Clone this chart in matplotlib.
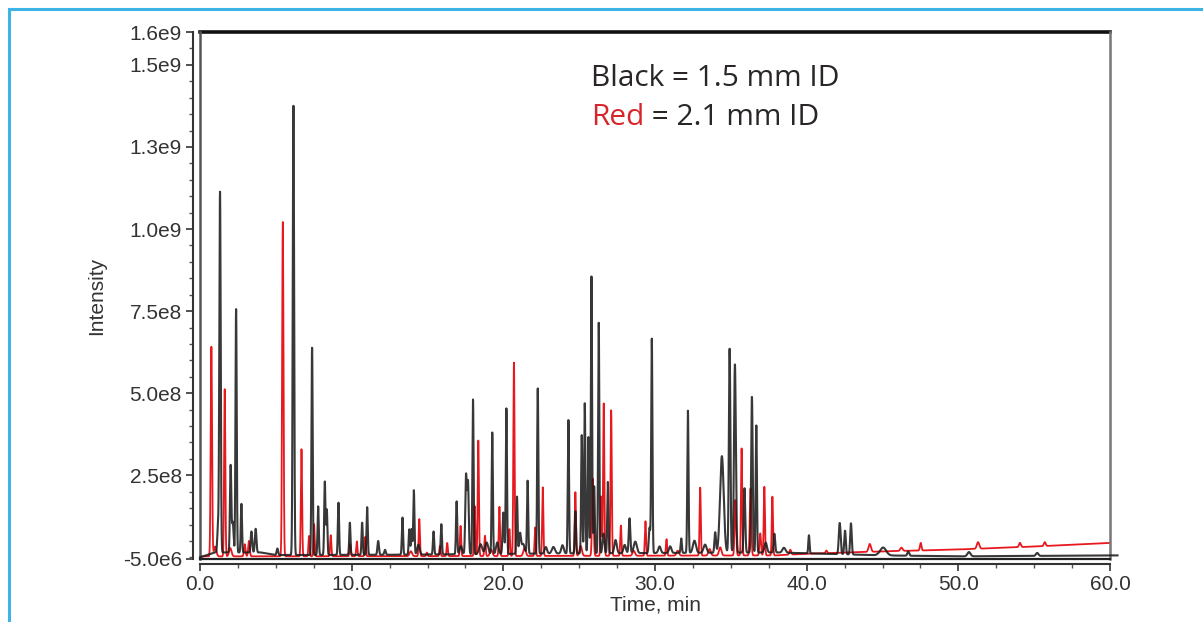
import numpy as np
import matplotlib.pyplot as plt
from matplotlib.lines import Line2D
from matplotlib.ticker import FixedLocator, MultipleLocator

plt.rcParams['font.family'] = ['Liberation Sans', 'DejaVu Sans']

# peaks: retention time (min), height, width (min)
black_t = [1.19, 1.32, 2.02, 2.16, 2.38, 2.73, 3.39, 3.67, 5.1, 6.16, 7.39, 7.79, 8.23, 8.36,
           9.13, 9.88, 10.69, 11.02, 11.75, 12.2, 13.35, 13.8, 13.95, 14.1, 15.4, 15.91, 16.92,
           17.54, 17.67, 18.0, 18.9, 19.27, 20.0, 20.2, 20.9, 21.1, 21.6, 22.27, 23.3, 24.29,
           24.75, 25.17, 25.37, 25.61, 25.81, 25.99, 26.29, 26.89, 28.32, 29.64, 29.79, 31.73,
           32.17, 32.6, 33.97, 34.41, 34.92, 35.27, 35.9, 36.39, 36.68, 37.87, 40.15, 42.18,
           42.53, 42.92, 45.04, 46.7, 50.7, 55.2,
           14.4, 17.2, 18.5, 19.6, 21.3, 22.8, 23.9, 26.6, 27.4, 28.0, 28.7, 30.3, 31.0, 33.3,
           37.3, 38.5]
black_h = [7.7e7, 1.096e9, 2.65e8, 9.2e7, 7.41e8, 1.48e8, 6.4e7, 7.2e7, 2.0e7, 1.368e9, 6.31e8,
           1.48e8, 2.23e8, 1.38e8, 1.59e8, 9.8e7, 9.8e7, 1.45e8, 4.2e7, 1.5e7, 1.13e8, 7.7e7,
           7.8e7, 1.96e8, 7.0e7, 9.2e7, 1.61e8, 2.38e8, 2.17e8, 4.71e8, 3.5e7, 3.7e8, 1.26e8,
           4.43e8, 1.74e8, 6.0e7, 2.22e8, 5.03e8, 2.0e7, 4.06e8, 1.28e8, 3.6e8, 4.57e8, 3.54e8,
           8.43e8, 2.04e8, 7.02e8, 2.17e8, 1.06e8, 7.7e7, 6.52e8, 4.4e7, 4.33e8, 3.7e7, 6.2e7,
           2.94e8, 6.21e8, 5.73e8, 1.96e8, 4.74e8, 3.87e8, 5.7e7, 5.5e7, 9.5e7, 7.2e7, 9.5e7,
           2.4e7, 1.3e7, 1.3e7, 9e6,
           3.0e7, 2.5e7, 3.0e7, 3.5e7, 3.0e7, 2.0e7, 2.5e7, 6.0e7, 4.0e7, 2.5e7, 3.5e7, 2.0e7,
           2.0e7, 2.5e7, 3.0e7, 1.5e7]
black_w = [0.05, 0.045, 0.045, 0.05, 0.04, 0.04, 0.05, 0.05, 0.05, 0.045, 0.04, 0.04, 0.04,
           0.04, 0.04, 0.04, 0.04, 0.04, 0.05, 0.05, 0.04, 0.04, 0.04, 0.04, 0.04, 0.04, 0.04,
           0.05, 0.05, 0.04, 0.1, 0.04, 0.05, 0.04, 0.04, 0.06, 0.04, 0.04, 0.1, 0.04, 0.04,
           0.04, 0.04, 0.04, 0.04, 0.04, 0.04, 0.04, 0.05, 0.05, 0.04, 0.04, 0.04, 0.1, 0.05,
           0.12, 0.05, 0.06, 0.05, 0.05, 0.04, 0.05, 0.04, 0.06, 0.05, 0.05, 0.2, 0.06, 0.1, 0.08,
           0.08, 0.08, 0.1, 0.08, 0.1, 0.08, 0.08, 0.06, 0.08, 0.08, 0.1, 0.08, 0.08, 0.1,
           0.08, 0.1]

red_t = [0.75, 1.63, 2.95, 3.23, 5.46, 6.69, 7.19, 7.52, 8.62, 9.9, 10.34, 10.9, 14.46, 14.96,
         15.82, 16.3, 17.18, 18.11, 18.35, 18.79, 19.74, 20.4, 20.7, 22.1, 22.6, 24.75, 25.9,
         26.45, 26.62, 27.11, 27.75, 29.37, 30.76, 32.98, 35.3, 35.71, 36.3, 36.94, 37.21,
         37.74, 38.92, 41.3, 44.16, 46.25, 47.52, 51.3, 54.06, 55.7,
         1.0, 2.0, 13.9, 19.2, 21.4, 25.1, 28.6, 31.5, 33.6, 34.3]
red_h = [6.38e8, 5.09e8, 3.7e7, 4.7e7, 1.018e9, 3.26e8, 6.2e7, 9.8e7, 6.4e7, 3.7e7, 4.5e7, 5.9e7,
         1.13e8, 1.1e7, 3.1e7, 4.0e7, 9.2e7, 1.52e8, 3.52e8, 6.2e7, 1.5e8, 8.2e7, 5.89e8, 8.7e7,
         2.09e8, 1.94e8, 2.35e8, 1.81e8, 4.64e8, 4.43e8, 9.2e7, 1.05e8, 5.0e7, 2.07e8, 1.69e8,
         3.26e8, 2.04e8, 6.7e7, 2.09e8, 1.79e8, 1.5e7, 8e6, 2.4e7, 1.0e7, 2.3e7, 2.0e7, 1.3e7, 1.2e7,
         3.0e7, 2.5e7, 1.5e7, 2.0e7, 2.5e7, 3.0e7, 1.5e7, 1.5e7, 2.0e7, 2.5e7]
red_w = [0.045, 0.04, 0.05, 0.05, 0.045, 0.04, 0.04, 0.04, 0.04, 0.04, 0.04, 0.04, 0.04, 0.04,
         0.04, 0.04, 0.04, 0.04, 0.04, 0.04, 0.04, 0.04, 0.04, 0.04, 0.04, 0.04, 0.05, 0.04,
         0.04, 0.04, 0.04, 0.04, 0.04, 0.04, 0.05, 0.04, 0.05, 0.05, 0.04, 0.04, 0.06, 0.05,
         0.08, 0.08, 0.05, 0.08, 0.06, 0.06,
         0.08, 0.08, 0.08, 0.08, 0.08, 0.08, 0.08, 0.08, 0.08, 0.08]

# baseline drift
black_base_t = [0, 1.0, 4.0, 5.0, 13.0, 24.0, 38.0, 45.0, 50.0, 60.5]
black_base_v = [0, 1.5e7, 1.5e7, 7e6, 8e6, 1.2e7, 1.5e7, 6e6, 3e6, 6e6]
red_base_t = [0, 20.0, 38.0, 40.0, 45.0, 50.0, 55.0, 60.0]
red_base_v = [3e6, 4e6, 6e6, 1.1e7, 1.8e7, 2.4e7, 3.3e7, 4.4e7]


def trace(t, pk_t, pk_h, pk_w, base_t, base_v):
    y = np.interp(t, base_t, base_v)
    for c, h, w in zip(pk_t, pk_h, pk_w):
        y = y + h * np.exp(-0.5 * ((t - c) / w) ** 2)
    return y


t = np.arange(0, 60.5, 0.005)
y_black = trace(t, black_t, black_h, black_w, black_base_t, black_base_v)
t_red = t[t <= 60]
y_red = trace(t_red, red_t, red_h, red_w, red_base_t, red_base_v)

fig = plt.figure(figsize=(12.03, 6.22), dpi=100)
ax = fig.add_axes([200 / 1203, 1 - 559 / 622, 910 / 1203, 527 / 622])

ax.plot(t_red, y_red, color='#e8191e', lw=1.3, zorder=2)
ax.plot(t, y_black, color='#1c1c1c', lw=1.5, alpha=0.88, zorder=3, clip_on=False)

ax.set_xlim(0, 60)
ax.set_ylim(-5e6, 1.6e9)

yt = [-5e6, 2.5e8, 5e8, 7.5e8, 1e9, 1.25e9, 1.5e9, 1.6e9]
ytl = ['-5.0e6', '2.5e8', '5.0e8', '7.5e8', '1.0e9', '1.3e9', '1.5e9', '1.6e9']
ax.yaxis.set_major_locator(FixedLocator(yt))
ax.set_yticklabels(ytl)
ax.yaxis.set_minor_locator(MultipleLocator(5e7))
ax.xaxis.set_major_locator(MultipleLocator(10))
ax.xaxis.set_minor_locator(MultipleLocator(2.5))
ax.xaxis.set_major_formatter(lambda v, p: f'{v:.1f}')

for s in ['top', 'right']:
    ax.spines[s].set_visible(False)
ax.spines['left'].set_position(('outward', 5))
ax.spines['bottom'].set_position(('outward', 3.5))
ax.spines['left'].set_bounds(-5e6, 1.6e9)
for s in ['left', 'bottom']:
    ax.spines[s].set_color('#333333')
    ax.spines[s].set_linewidth(1.5)

ax.tick_params(axis='both', which='major', length=5, width=1.2, color='#333333',
               labelsize=15, labelcolor='#333333', pad=3)
ax.tick_params(axis='both', which='minor', length=3, width=1, color='#555555')

# plot frame
ax.add_line(Line2D([0, 1], [1, 1], transform=ax.transAxes, color='#111111', lw=2.6, clip_on=False))
ax.add_line(Line2D([0, 0], [0, 1], transform=ax.transAxes, color='#555555', lw=1.8, clip_on=False))
ax.add_line(Line2D([1, 1], [0, 1], transform=ax.transAxes, color='#777777', lw=1.8, clip_on=False))
ax.add_line(Line2D([0, 1], [0, 0], transform=ax.transAxes, color='#222222', lw=1.6, clip_on=False))

ax.set_xlabel('Time, min', fontsize=15, color='#333333', labelpad=1)
ax.set_ylabel('Intensity', fontsize=15, color='#333333', labelpad=12)

# legend text
lf = ['Open Sans', 'DejaVu Sans']
fig.text(591 / 1203, 1 - 86 / 622, 'Black = 1.5 mm ID', fontsize=21.5, family=lf,
         color='#2a2627', va='baseline')
red_lbl = fig.text(591 / 1203, 1 - 125 / 622, 'Red', fontsize=21.5, family=lf,
                   color='#d7262b', va='baseline')
ax.annotate(' = 2.1 mm ID', xy=(1, 0), xycoords=red_lbl, fontsize=21.5, family=lf,
            color='#2a2627', va='bottom', ha='left', annotation_clip=False)

# blue border (left and top only)
fig.add_artist(Line2D([8.5 / 1203, 8.5 / 1203], [0, 1 - 9 / 622], color='#3cb4e6', lw=2.2))
fig.add_artist(Line2D([8.5 / 1203, 1], [1 - 9 / 622, 1 - 9 / 622], color='#3cb4e6', lw=2.2))

fig.savefig('out.png', dpi=100)
